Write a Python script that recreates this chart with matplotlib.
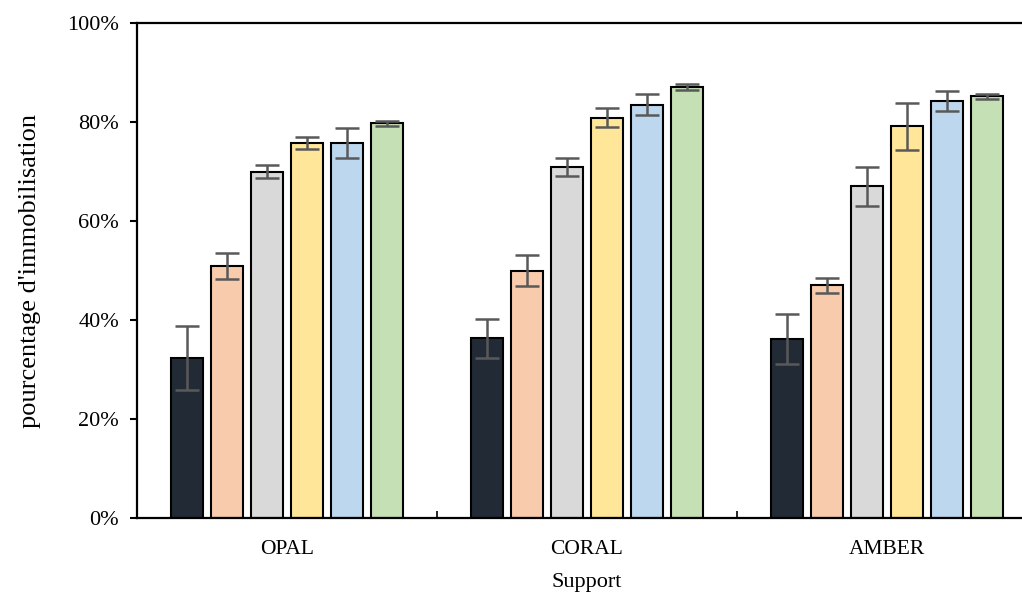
import numpy as np
import matplotlib
matplotlib.use("Agg")
import matplotlib.pyplot as plt

supports = ["OPAL", "CORAL", "AMBER"]
# one list per series (6 bars per group), values in %
s1 = [32.3, 36.3, 36.2]
s2 = [50.9, 50.0, 47.0]
s3 = [70.0, 70.9, 67.0]
s4 = [75.8, 80.9, 79.1]
s5 = [75.8, 83.5, 84.2]
s6 = [79.7, 87.1, 85.2]
e1 = [6.45, 4.0, 5.0]
e2 = [2.6, 3.2, 1.5]
e3 = [1.35, 1.8, 4.0]
e4 = [1.2, 2.0, 4.75]
e5 = [3.0, 2.1, 2.05]
e6 = [0.5, 0.6, 0.55]
yticks = [0, 20, 40, 60, 80, 100]

series = [s1, s2, s3, s4, s5, s6]
errors = [e1, e2, e3, e4, e5, e6]
colors = ["#222A35", "#F8CBAD", "#D9D9D9", "#FFE699", "#BDD7EE", "#C5E0B4"]

plt.rcParams['font.family'] = ['Liberation Serif', 'DejaVu Serif']

fig = plt.figure(figsize=(10.22, 5.97), dpi=100)
ax = fig.add_axes([137/1022, 79/597, 900/1022, 495/597])

x = np.arange(len(supports))
step = 40/300
width = 32/300
for i, (vals, errs) in enumerate(zip(series, errors)):
    pos = x + (i - 2.5)*step
    ax.bar(pos, vals, width=width, color=colors[i], edgecolor="black", linewidth=1.5, zorder=2)
    ax.errorbar(pos, vals, yerr=errs, fmt="none", ecolor="#595959", elinewidth=1.8,
                capsize=8.4, capthick=1.8, zorder=3)

ax.set_xlim(-0.5, 2.5)
ax.set_ylim(0, 100)
ax.set_yticks(yticks)
ax.set_yticklabels([f"{v}%" for v in yticks], fontsize=16)
ax.set_xticks(x)
ax.set_xticklabels(supports, fontsize=15.5)
ax.set_xticks([0.5, 1.5], minor=True)
ax.tick_params(axis="x", which="major", length=0, pad=16)
ax.tick_params(axis="x", which="minor", direction="in", length=5, width=1.2)
ax.tick_params(axis="y", direction="out", length=5, width=1.5, pad=8)

ax.spines["right"].set_visible(False)
for s in ["left", "bottom", "top"]:
    ax.spines[s].set_linewidth(1.6)

ax.set_ylabel("pourcentage d'immobilisation", fontsize=19)
ax.yaxis.set_label_coords(-96/900, 0.5)
ax.set_xlabel("Support", fontsize=16)
ax.xaxis.set_label_coords(0.5, -55/495)

fig.savefig("out.png", dpi=100)
